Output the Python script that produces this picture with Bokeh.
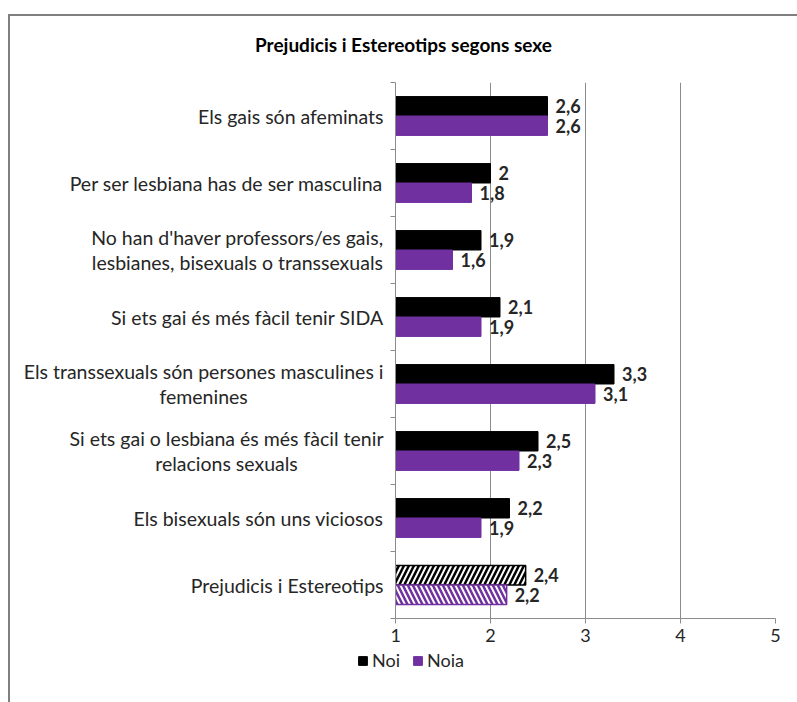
from bokeh.plotting import figure
from bokeh.models import (Range1d, FixedTicker, Legend, LegendItem, Div)
from bokeh.layouts import column, row
from bokeh.core.properties import value
from bokeh.embed import file_html
from bokeh.resources import INLINE

title = "Prejudicis i Estereotips segons sexe"
categories = [
    "Els gais són afeminats",
    "Per ser lesbiana has de ser masculina",
    "No han d'haver professors/es gais,\nlesbianes, bisexuals o transsexuals",
    "Si ets gai és més fàcil tenir SIDA",
    "Els transsexuals són persones masculines i\nfemenines",
    "Si ets gai o lesbiana és més fàcil tenir\nrelacions sexuals",
    "Els bisexuals són uns viciosos",
    "Prejudicis i Estereotips",
]
noi = [2.6, 2.0, 1.9, 2.1, 3.3, 2.5, 2.2, 2.37]
noia = [2.6, 1.8, 1.6, 1.9, 3.1, 2.3, 1.9, 2.17]
series_names = ["Noi", "Noia"]
x_ticks = [1, 2, 3, 4, 5]

BLACK = "#000000"
PURPLE = "#7030A0"
GRID = "#8c8c8c"
FONT = "Lato"
TEXT = "#262626"


def fmt(v):
    s = f"{v:.1f}"
    if s.endswith(".0"):
        s = s[:-2]
    return s.replace(".", ",")


n = len(categories)
centers = [n - 0.5 - i for i in range(n)]
bh = 0.29
y_range = Range1d(0, n)

# ---- title ----
title_div = Div(text=title, width=787, height=50, margin=0,
                styles={"font-family": FONT, "font-size": "19px",
                        "font-weight": "bold", "text-align": "center",
                        "line-height": "22px", "padding-top": "18px",
                        "color": "#000000", "box-sizing": "border-box"})

# ---- category labels panel ----
pl = figure(width=380, height=584, output_backend="svg", toolbar_location=None,
            x_range=Range1d(0, 1), y_range=y_range,
            x_axis_type=None, y_axis_type=None,
            min_border_left=0, min_border_right=0, min_border_top=16,
            min_border_bottom=32)
pl.outline_line_color = None
pl.grid.grid_line_color = None
pl.text(x=[1] * n, y=centers, text=categories, x_offset=-7,
        anchor=value("center_right"), text_align="center",
        text_baseline="middle", text_font=value(FONT),
        text_font_size="19.5px", text_color=TEXT, text_line_height=1.1)

# ---- main chart ----
p = figure(width=407, height=584, output_backend="svg", toolbar_location=None,
           x_range=Range1d(1, 5), y_range=y_range,
           min_border_left=5, min_border_right=22, min_border_top=16,
           min_border_bottom=32)
p.outline_line_color = None
p.background_fill_color = "white"
p.border_fill_color = "white"

solid_n = n - 1
y_noi = [c + bh / 2 for c in centers]
y_noia = [c - bh / 2 for c in centers]

p.hbar(y=y_noi[:solid_n], left=1, right=noi[:solid_n], height=bh,
       fill_color=BLACK, line_color=BLACK)
p.hbar(y=y_noia[:solid_n], left=1, right=noia[:solid_n], height=bh,
       fill_color=PURPLE, line_color=PURPLE)
p.hbar(y=y_noi[solid_n:], left=1, right=noi[solid_n:], height=bh,
       fill_color="white", line_color=BLACK, line_width=1.5,
       hatch_pattern="/", hatch_color=BLACK, hatch_scale=10, hatch_weight=2.5)
p.hbar(y=y_noia[solid_n:], left=1, right=noia[solid_n:], height=bh,
       fill_color="white", line_color=PURPLE, line_width=1.5,
       hatch_pattern="\\", hatch_color=PURPLE, hatch_scale=10, hatch_weight=2.5)

p.text(x=noi, y=y_noi, text=[fmt(v) for v in noi], x_offset=8,
       text_align="left", text_baseline="middle", text_font=value(FONT),
       text_font_style="bold", text_font_size="18px", text_color=TEXT)
p.text(x=noia, y=y_noia, text=[fmt(v) for v in noia], x_offset=8,
       text_align="left", text_baseline="middle", text_font=value(FONT),
       text_font_style="bold", text_font_size="18px", text_color=TEXT)

p.xgrid.ticker = FixedTicker(ticks=x_ticks[1:])
p.xgrid.grid_line_color = GRID
p.ygrid.grid_line_color = None

xa = p.xaxis[0]
xa.ticker = FixedTicker(ticks=x_ticks)
xa.axis_line_color = GRID
xa.major_tick_line_color = GRID
xa.major_tick_out = 5
xa.major_tick_in = 0
xa.minor_tick_line_color = None
xa.major_label_standoff = 5
xa.major_label_text_font = FONT
xa.major_label_text_font_size = "18px"
xa.major_label_text_color = TEXT

ya = p.yaxis[0]
ya.ticker = FixedTicker(ticks=[], minor_ticks=list(range(n + 1)))
ya.axis_line_color = GRID
ya.minor_tick_line_color = GRID
ya.minor_tick_out = 5
ya.minor_tick_in = 0
ya.major_tick_line_color = None
ya.major_label_standoff = 0

# ---- legend strip (keys only; its bars lie outside its visible range) ----
pg = figure(width=787, height=52, output_backend="svg", toolbar_location=None,
            x_range=Range1d(0, 1), y_range=Range1d(0, 1),
            x_axis_type=None, y_axis_type=None,
            min_border_left=0, min_border_right=0, min_border_top=0,
            min_border_bottom=0)
pg.outline_line_color = None
pg.grid.grid_line_color = None
g_noi = pg.hbar(y=[-9], left=[0], right=[1], height=bh,
                fill_color=BLACK, line_color=BLACK)
g_noia = pg.hbar(y=[-9], left=[0], right=[1], height=bh,
                 fill_color=PURPLE, line_color=PURPLE)
legend = Legend(items=[LegendItem(label=series_names[0], renderers=[g_noi]),
                       LegendItem(label=series_names[1], renderers=[g_noia])],
                location=(347, 31), orientation="horizontal",
                glyph_width=11, glyph_height=11, label_standoff=4, spacing=12,
                label_height=18, padding=0, margin=0, border_line_color=None,
                background_fill_alpha=0, label_text_font=FONT,
                label_text_font_size="18px", label_text_color=TEXT)
pg.add_layout(legend, "center")

layout = column(title_div, row(pl, p, spacing=0), pg, spacing=0,
                margin=(14, 0, 0, 8),
                styles={"border-top": "2px solid #7f7f7f",
                        "border-left": "2px solid #7f7f7f"})

open("out.html", "w").write(file_html(layout, INLINE))
